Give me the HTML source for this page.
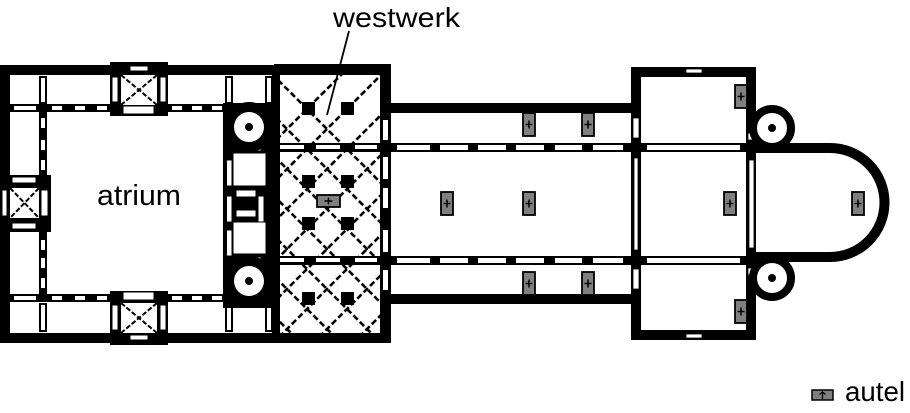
<!DOCTYPE html>
<html><head><meta charset="utf-8"><style>
html,body{margin:0;padding:0;background:#fff;overflow:hidden;width:910px;height:413px;}
svg{display:block;}
text{font-family:"Liberation Sans",Arial,sans-serif;fill:#000;}
</style></head><body>
<svg width="910" height="413" viewBox="0 0 910 413" xmlns="http://www.w3.org/2000/svg">
<defs>
<clipPath id="ww"><rect x="275" y="75" width="106" height="258"/></clipPath>
<g id="alt"><rect x="0" y="0" width="12" height="23" fill="#808080" stroke="#000" stroke-width="1.8"/><path d="M2.5 11.5H9.5M6 7.5V15.5" stroke="#000" stroke-width="1.5"/></g>
</defs>

<rect x="0" y="65" width="10" height="278" fill="#000"/>
<rect x="0" y="65" width="280" height="10" fill="#000"/>
<rect x="0" y="333" width="280" height="10" fill="#000"/>

<rect x="10" y="104" width="215" height="8" fill="#000"/>
<rect x="10" y="294" width="215" height="8" fill="#000"/>
<rect x="39" y="104" width="8" height="198" fill="#000"/>
<g fill="#fff">
<rect x="14" y="106" width="22" height="4"/><rect x="52" y="106" width="10" height="4"/><rect x="75" y="106" width="10" height="4"/><rect x="97" y="106" width="10" height="4"/>
<rect x="172" y="106" width="10" height="4"/><rect x="192" y="106" width="10" height="4"/><rect x="212" y="106" width="10" height="4"/>
<rect x="14" y="296" width="22" height="4"/><rect x="52" y="296" width="10" height="4"/><rect x="75" y="296" width="10" height="4"/><rect x="97" y="296" width="10" height="4"/>
<rect x="172" y="296" width="10" height="4"/><rect x="192" y="296" width="10" height="4"/><rect x="212" y="296" width="10" height="4"/>
<rect x="41" y="118" width="4" height="10"/><rect x="41" y="140" width="4" height="10"/><rect x="41" y="160" width="4" height="10"/>
<rect x="41" y="240" width="4" height="10"/><rect x="41" y="258" width="4" height="10"/><rect x="41" y="278" width="4" height="10"/>
</g>
<g fill="#fff" stroke="#000" stroke-width="2">
<rect x="40" y="77" width="6" height="26"/><rect x="226" y="77" width="6" height="26"/><rect x="266" y="77" width="6" height="26"/>
<rect x="40" y="304" width="6" height="27"/><rect x="226" y="304" width="6" height="27"/><rect x="266" y="304" width="6" height="27"/>
</g>

<rect x="110" y="62" width="58" height="54" fill="#000"/>
<rect x="121" y="75" width="36" height="30" fill="#fff"/>
<path d="M121 75L157 105M157 75L121 105" stroke="#000" stroke-width="2" stroke-dasharray="5 2"/>
<g fill="#fff" stroke="#000" stroke-width="1"><rect x="130" y="66" width="18" height="5"/><rect x="123" y="106" width="31" height="8"/><rect x="112" y="77" width="6" height="25"/><rect x="160" y="77" width="6" height="25"/></g>
<rect x="110" y="291" width="58" height="54" fill="#000"/>
<rect x="121" y="303" width="36" height="30" fill="#fff"/>
<path d="M121 303L157 333M157 303L121 333" stroke="#000" stroke-width="2" stroke-dasharray="5 2"/>
<g fill="#fff" stroke="#000" stroke-width="1"><rect x="123" y="292" width="31" height="8"/><rect x="130" y="335" width="18" height="5"/><rect x="112" y="305" width="6" height="25"/><rect x="160" y="305" width="6" height="25"/></g>
<rect x="0" y="175" width="51" height="57" fill="#000"/>
<rect x="10" y="188" width="29" height="30" fill="#fff"/>
<path d="M10 188L39 218M39 188L10 218" stroke="#000" stroke-width="2" stroke-dasharray="5 2"/>
<g fill="#fff" stroke="#000" stroke-width="1"><rect x="12" y="177" width="24" height="6"/><rect x="12" y="223" width="24" height="6"/><rect x="41" y="190" width="7" height="26"/><rect x="2" y="190" width="5" height="26"/></g>

<rect x="223" y="103" width="52" height="205" fill="#000"/>
<rect x="272" y="75" width="8" height="258" fill="#000"/>
<g fill="#fff" stroke="#000" stroke-width="1">
<rect x="233" y="153" width="33" height="33"/><rect x="233" y="222" width="33" height="32"/>
<rect x="236" y="190" width="20" height="7"/><rect x="236" y="210" width="20" height="7"/>
<rect x="226" y="160" width="6" height="26"/><rect x="226" y="196" width="6" height="26"/><rect x="226" y="230" width="6" height="26"/>
<rect x="258" y="196" width="6" height="26"/>
<rect x="252" y="143" width="9" height="8"/><rect x="252" y="257" width="9" height="8"/>
<rect x="265" y="123" width="7" height="9"/><rect x="265" y="276" width="7" height="9"/>
</g>
<rect x="225" y="112" width="2" height="182" fill="#000"/>
<circle cx="249" cy="127" r="25" fill="#000"/>
<circle cx="249" cy="127" r="15" fill="#fff"/><circle cx="249" cy="127" r="4" fill="#000"/>
<circle cx="249" cy="281" r="25" fill="#000"/>
<circle cx="249" cy="281" r="15" fill="#fff"/><circle cx="249" cy="281" r="4" fill="#000"/>

<rect x="274" y="64" width="117" height="11" fill="#000"/>
<rect x="274" y="333" width="117" height="10" fill="#000"/>
<rect x="380" y="64" width="11" height="279" fill="#000"/>
<g clip-path="url(#ww)" stroke="#000" stroke-width="2.6" stroke-dasharray="6 3">
<path d="M-2 80L498 580M38 80L538 580M78 80L578 580M118 80L618 580M158 80L658 580M198 80L698 580M238 80L738 580M278 80L778 580M-42 80L458 580M-82 80L418 580M-122 80L378 580M-162 80L338 580M-202 80L298 580M-242 80L258 580"/>
<path d="M-80 496L420 -4M-40 496L460 -4M0 496L500 -4M40 496L540 -4M80 496L580 -4M120 496L620 -4M160 496L660 -4M200 496L700 -4M240 496L740 -4M280 496L780 -4M320 496L820 -4M360 496L860 -4"/>
</g>
<g fill="#000">
<rect x="302" y="102" width="13" height="13"/><rect x="341" y="102" width="13" height="13"/>
<rect x="302" y="175" width="13" height="13"/><rect x="341" y="175" width="13" height="13"/>
<rect x="302" y="217" width="13" height="13"/><rect x="341" y="217" width="13" height="13"/>
<rect x="302" y="292" width="13" height="13"/><rect x="341" y="292" width="13" height="13"/>
<rect x="270" y="143" width="121" height="9"/><rect x="270" y="256" width="121" height="9"/>
</g>
<g fill="#fff"><rect x="280" y="145" width="24" height="4"/><rect x="316" y="145" width="24" height="4"/><rect x="355" y="145" width="22" height="4"/>
<rect x="280" y="258" width="24" height="4"/><rect x="316" y="258" width="24" height="4"/><rect x="355" y="258" width="22" height="4"/>
<rect x="383" y="120" width="5" height="20"/><rect x="383" y="157" width="5" height="22"/><rect x="383" y="188" width="5" height="20"/><rect x="383" y="230" width="5" height="22"/><rect x="383" y="270" width="5" height="20"/>
</g>
<g transform="translate(317,196) rotate(90) translate(-1,-23)"><use href="#alt"/></g>

<rect x="391" y="103" width="245" height="10" fill="#000"/>
<rect x="391" y="294" width="245" height="10" fill="#000"/>
<rect x="391" y="143" width="365" height="9" fill="#000"/>
<rect x="391" y="256" width="365" height="9" fill="#000"/>
<g fill="#fff">
<rect x="397" y="145" width="33" height="5"/><rect x="440" y="145" width="28" height="5"/><rect x="478" y="145" width="28" height="5"/><rect x="516" y="145" width="28" height="5"/><rect x="555" y="145" width="27" height="5"/><rect x="593" y="145" width="30" height="5"/><rect x="647" y="145" width="93" height="5"/>
<rect x="397" y="258" width="33" height="5"/><rect x="440" y="258" width="28" height="5"/><rect x="478" y="258" width="28" height="5"/><rect x="516" y="258" width="28" height="5"/><rect x="555" y="258" width="27" height="5"/><rect x="593" y="258" width="30" height="5"/><rect x="647" y="258" width="93" height="5"/>
</g>

<rect x="636" y="72" width="115" height="263" fill="none" stroke="#000" stroke-width="10"/>
<rect x="631" y="143" width="10" height="122" fill="#000"/>
<rect x="746" y="143" width="10" height="122" fill="#000"/>
<g fill="#fff" stroke="#000" stroke-width="0.8">
<rect x="634" y="158" width="4" height="92"/><rect x="749" y="160" width="5" height="88"/>
<rect x="633" y="118" width="6" height="20"/><rect x="633" y="269" width="6" height="20"/>
<rect x="686" y="69" width="16" height="4"/><rect x="686" y="334" width="16" height="4"/>
<rect x="748" y="133" width="6" height="7"/><rect x="748" y="268" width="6" height="7"/>
</g>
<path d="M756 148H830A54.5 54.5 0 0 1 830 257H756" fill="none" stroke="#000" stroke-width="10"/>
<circle cx="772" cy="128" r="19" fill="#fff" stroke="#000" stroke-width="8"/><circle cx="772" cy="128" r="4" fill="#000"/>
<circle cx="772" cy="278" r="19" fill="#fff" stroke="#000" stroke-width="8"/><circle cx="772" cy="278" r="4" fill="#000"/>

<use href="#alt" x="523" y="113"/><use href="#alt" x="582" y="113"/>
<use href="#alt" x="523" y="272"/><use href="#alt" x="582" y="272"/>
<use href="#alt" x="441" y="192"/><use href="#alt" x="523" y="192"/>
<use href="#alt" x="724" y="192"/><use href="#alt" x="852" y="192"/>
<use href="#alt" x="735" y="85"/><use href="#alt" x="735" y="300"/>

<path d="M349 31L327 115" stroke="#000" stroke-width="1.8"/>
<text x="333" y="27" font-size="28" textLength="127" lengthAdjust="spacingAndGlyphs">westwerk</text>
<text x="97" y="205" font-size="29" textLength="84" lengthAdjust="spacingAndGlyphs">atrium</text>
<rect x="812" y="390" width="21" height="10" fill="#808080" stroke="#000" stroke-width="1.5"/>
<path d="M822.5 392V399M819.5 394.5L822.5 392L825.5 394.5" stroke="#000" stroke-width="1.3" fill="none"/>
<text x="845" y="401" font-size="28" textLength="60" lengthAdjust="spacingAndGlyphs">autel</text>
</svg>
</body></html>
